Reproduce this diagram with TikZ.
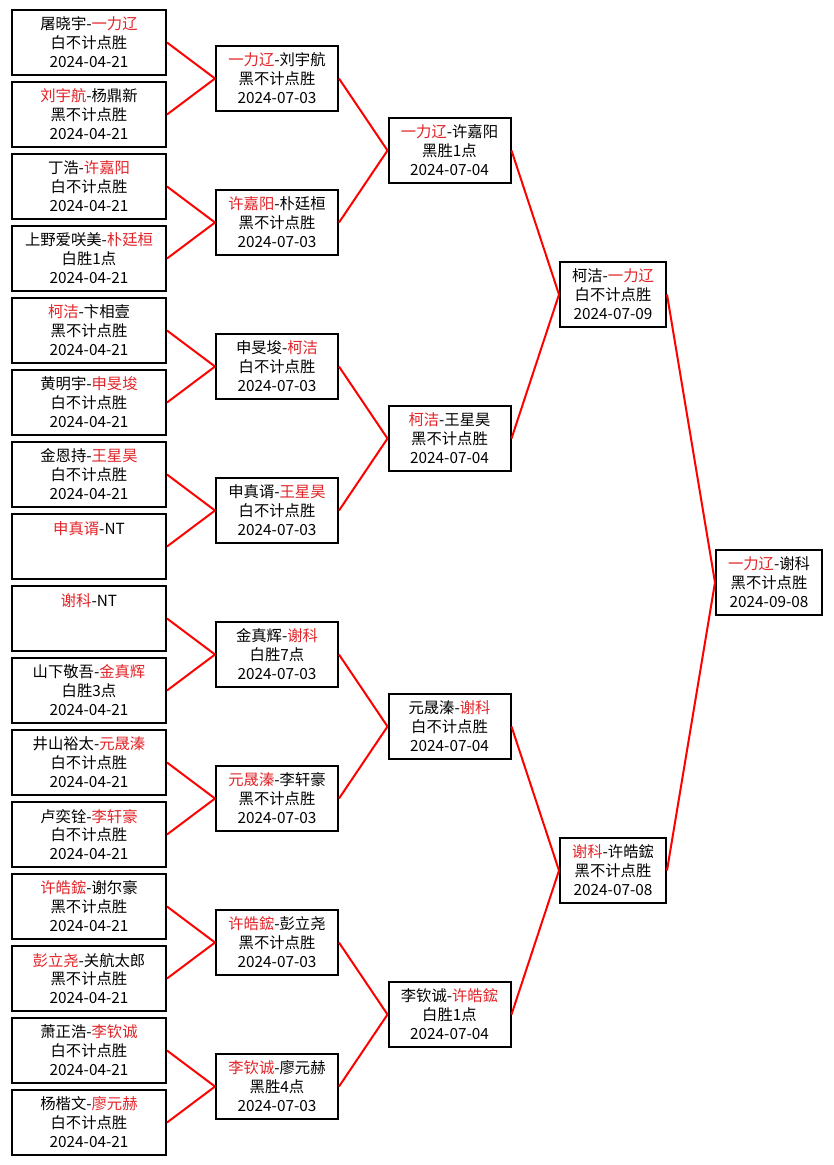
\documentclass[tikz,border=0pt]{standalone}
\usepackage{fontspec}
\setmainfont{Noto Sans CJK SC}
\usepackage{xcolor}
\usepackage{tikz}
\definecolor{winred}{RGB}{226,36,40}
\newcommand{\winner}[1]{\textcolor{winred}{#1}}

\begin{document}
\begin{tikzpicture}[x=0.75pt, y=-0.75pt,
    game/.style={draw, line width=1.5pt, align=center, minimum height=48.75pt,
                 inner sep=2pt, font=\fontsize{11.5}{14.2}\selectfont},
    r1/.style={game, minimum width=115.5pt},
    r2/.style={game, minimum width=91.5pt},
    r4/.style={game, minimum width=79.5pt},
    link/.style={red, line width=1.5pt}]
    % 0. Page
    \fill[white] (0,0) rectangle (833,1165);
    \useasboundingbox (0,0) rectangle (833,1165);

    % 1. First round (2024-04-21)
    \node[r1] (a1)  at (89,42.5)   {屠晓宇-\winner{一力辽}\\白不计点胜\\2024-04-21};
    \node[r1] (a2)  at (89,114.5)  {\winner{刘宇航}-杨鼎新\\黑不计点胜\\2024-04-21};
    \node[r1] (a3)  at (89,186.5)  {丁浩-\winner{许嘉阳}\\白不计点胜\\2024-04-21};
    \node[r1] (a4)  at (89,258.5)  {上野爱咲美-\winner{朴廷桓}\\白胜1点\\2024-04-21};
    \node[r1] (a5)  at (89,330.5)  {\winner{柯洁}-卞相壹\\黑不计点胜\\2024-04-21};
    \node[r1] (a6)  at (89,402.5)  {黄明宇-\winner{申旻埈}\\白不计点胜\\2024-04-21};
    \node[r1] (a7)  at (89,474.5)  {金恩持-\winner{王星昊}\\白不计点胜\\2024-04-21};
    \node[r1] (a8)  at (89,546.5)  {\winner{申真谞}-NT\\\mbox{}\\\mbox{}};
    \node[r1] (a9)  at (89,618.5)  {\winner{谢科}-NT\\\mbox{}\\\mbox{}};
    \node[r1] (a10) at (89,690.5)  {山下敬吾-\winner{金真辉}\\白胜3点\\2024-04-21};
    \node[r1] (a11) at (89,762.5)  {井山裕太-\winner{元晟溱}\\白不计点胜\\2024-04-21};
    \node[r1] (a12) at (89,834.5)  {卢奕铨-\winner{李轩豪}\\白不计点胜\\2024-04-21};
    \node[r1] (a13) at (89,906.5)  {\winner{许皓鋐}-谢尔豪\\黑不计点胜\\2024-04-21};
    \node[r1] (a14) at (89,978.5)  {\winner{彭立尧}-关航太郎\\黑不计点胜\\2024-04-21};
    \node[r1] (a15) at (89,1050.5) {萧正浩-\winner{李钦诚}\\白不计点胜\\2024-04-21};
    \node[r1] (a16) at (89,1122.5) {杨楷文-\winner{廖元赫}\\白不计点胜\\2024-04-21};

    % 2. Second round (2024-07-03)
    \node[r2] (b1) at (277,78.5)   {\winner{一力辽}-刘宇航\\黑不计点胜\\2024-07-03};
    \node[r2] (b2) at (277,222.5)  {\winner{许嘉阳}-朴廷桓\\黑不计点胜\\2024-07-03};
    \node[r2] (b3) at (277,366.5)  {申旻埈-\winner{柯洁}\\白不计点胜\\2024-07-03};
    \node[r2] (b4) at (277,510.5)  {申真谞-\winner{王星昊}\\白不计点胜\\2024-07-03};
    \node[r2] (b5) at (277,654.5)  {金真辉-\winner{谢科}\\白胜7点\\2024-07-03};
    \node[r2] (b6) at (277,798.5)  {\winner{元晟溱}-李轩豪\\黑不计点胜\\2024-07-03};
    \node[r2] (b7) at (277,942.5)  {\winner{许皓鋐}-彭立尧\\黑不计点胜\\2024-07-03};
    \node[r2] (b8) at (277,1086.5) {\winner{李钦诚}-廖元赫\\黑胜4点\\2024-07-03};

    % 3. Quarter finals (2024-07-04)
    \node[r2] (c1) at (449.5,150.5)  {\winner{一力辽}-许嘉阳\\黑胜1点\\2024-07-04};
    \node[r2] (c2) at (449.5,438.5)  {\winner{柯洁}-王星昊\\黑不计点胜\\2024-07-04};
    \node[r2] (c3) at (449.5,726.5)  {元晟溱-\winner{谢科}\\白不计点胜\\2024-07-04};
    \node[r2] (c4) at (449.5,1014.5) {李钦诚-\winner{许皓鋐}\\白胜1点\\2024-07-04};

    % 4. Semi finals and final
    \node[r4] (d1) at (613,294.5) {柯洁-\winner{一力辽}\\白不计点胜\\2024-07-09};
    \node[r4] (d2) at (613,870.5) {\winner{谢科}-许皓鋐\\黑不计点胜\\2024-07-08};
    \node[r4] (e1) at (769,582.5) {\winner{一力辽}-谢科\\黑不计点胜\\2024-09-08};

    % 5. Red bracket lines
    \foreach \i in {1,...,8} {
        \pgfmathtruncatemacro{\up}{2*\i-1}
        \pgfmathtruncatemacro{\dn}{2*\i}
        \draw[link] (a\up.east) -- (b\i.west);
        \draw[link] (a\dn.east) -- (b\i.west);
    }
    \foreach \i in {1,...,4} {
        \pgfmathtruncatemacro{\up}{2*\i-1}
        \pgfmathtruncatemacro{\dn}{2*\i}
        \draw[link] (b\up.east) -- (c\i.west);
        \draw[link] (b\dn.east) -- (c\i.west);
    }
    \draw[link] (c1.east) -- (d1.west);
    \draw[link] (c2.east) -- (d1.west);
    \draw[link] (c3.east) -- (d2.west);
    \draw[link] (c4.east) -- (d2.west);
    \draw[link] (d1.east) -- (e1.west);
    \draw[link] (d2.east) -- (e1.west);
\end{tikzpicture}
\end{document}
